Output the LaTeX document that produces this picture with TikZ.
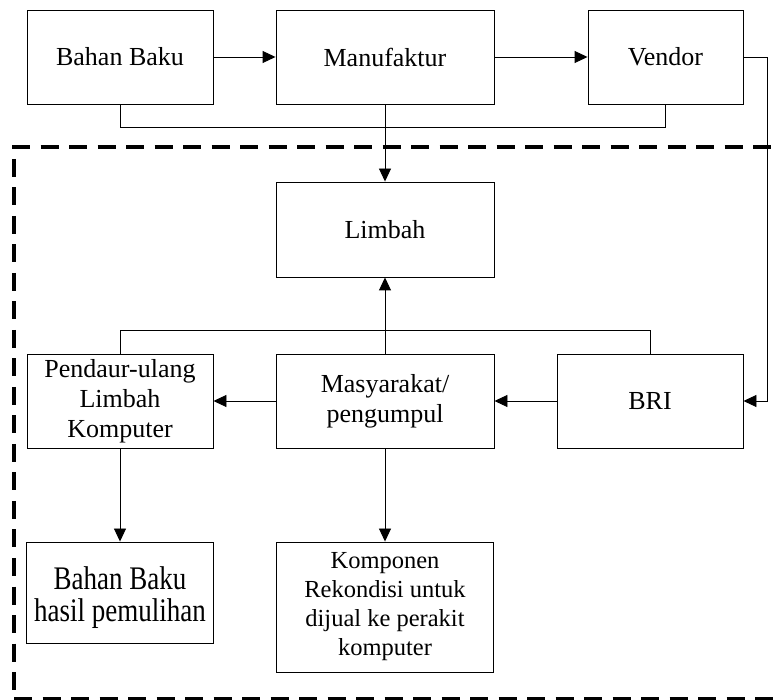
\documentclass[tikz,border=0pt]{standalone}
\usepackage{fontspec}
\setmainfont{Liberation Serif}
\usepackage{graphicx}
\usetikzlibrary{arrows.meta}
\begin{document}
\begin{tikzpicture}[x=1pt,y=-1pt,
  box/.style={draw, line width=0.9pt, inner sep=0pt, align=center, font=\fontsize{26}{30}\selectfont},
  conn/.style={line width=0.9pt},
  arr/.style={conn, -{Triangle[length=13pt,width=12pt]}},
  border/.style={line width=4pt, dash pattern=on 18pt off 10.5pt}]
\clip (0,0) rectangle (777,700);
\fill[white] (0,0) rectangle (777,700);
% top row
\node[box, minimum width=186pt, minimum height=94pt] (bahan) at (120,57) {Bahan Baku};
\node[box, minimum width=218pt, minimum height=94pt] (manuf) at (385,57) {Manufaktur};
\node[box, minimum width=155pt, minimum height=94pt] (vendor) at (665.5,57) {Vendor};
% middle
\node[box, minimum width=218pt, minimum height=95pt] (limbah) at (385,229.5) {Limbah};
\node[box, minimum width=186pt, minimum height=94pt] (pendaur) at (120,401) {Pendaur-ulang\\Limbah\\Komputer};
\node[box, minimum width=218pt, minimum height=94pt] (masy) at (385,401) {Masyarakat/\\pengumpul};
\node[box, minimum width=186pt, minimum height=94pt] (bri) at (650,401) {BRI};
% bottom
\node[box, minimum width=187pt, minimum height=101pt] (hasil) at (120,592.5) {};
\node[inner sep=0pt, font=\fontsize{27}{26}\selectfont] (hasiltext) at (120,599) {\scalebox{1}[1.22]{\begin{tabular}{@{}c@{}}Bahan Baku\\hasil pemulihan\end{tabular}}};
\node[box, minimum width=217pt, minimum height=130pt, font=\fontsize{24.5}{29}\selectfont] (komp) at (385,607) {Komponen\\Rekondisi untuk\\dijual ke perakit\\komputer};
% connectors
\draw[arr] (bahan.east) -- (manuf.west);
\draw[arr] (manuf.east) -- (vendor.west);
\draw[conn] (bahan.south) -- ++(0,23) -| (vendor.south);
\draw[arr] (manuf.south) -- (limbah.north);
\draw[arr] (vendor.east) -- ++(24,0) |- (bri.east);
\draw[conn] (pendaur.north) -- ++(0,-23) -| (bri.north);
\draw[arr] (masy.north) -- (limbah.south);
\draw[arr] (bri.west) -- (masy.east);
\draw[arr] (masy.west) -- (pendaur.east);
\draw[arr] (pendaur.south) -- (hasil.north);
\draw[arr] (masy.south) -- (komp.north);
% dashed boundary
\draw[border] (12,147) -- (790,147);
\draw[border] (14,159) -- (14,692);
\draw[border] (14,699) -- (790,699);
\end{tikzpicture}
\end{document}
